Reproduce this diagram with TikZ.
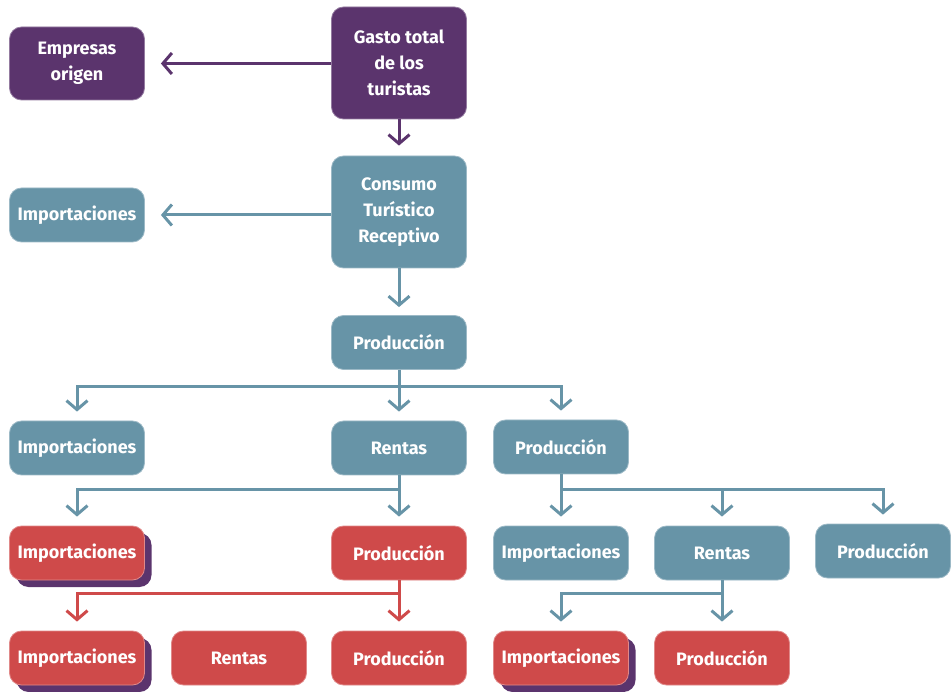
\documentclass[tikz,border=0pt]{standalone}
\usepackage{fontspec}
\setmainfont{Fira Sans}
\usetikzlibrary{arrows.meta,shadows}
\definecolor{tpurple}{HTML}{5B346D}
\definecolor{tteal}{HTML}{6794A7}
\definecolor{tred}{HTML}{CF4A4A}
\begin{document}
\begin{tikzpicture}[x=1pt,y=-1pt,
  box/.style={rounded corners=12pt, minimum width=135pt, minimum height=54pt,
    text=white, font=\bfseries\fontsize{18}{26}\selectfont, align=center,
    inner sep=0pt, line width=0.8pt},
  pbox/.style={box, fill=tpurple, draw=tpurple!65!white},
  tbox/.style={box, fill=tteal, draw=tteal!65!white},
  rbox/.style={box, fill=tred, draw=tred!65!white},
  shadowed/.style={drop shadow={shadow xshift=7pt, shadow yshift=-7pt,
    fill=tpurple, opacity=1}},
  arr/.style={line width=3pt, line join=miter,
    -{Straight Barb[length=9pt, width=21pt]}},
  parr/.style={arr, draw=tpurple},
  tarr/.style={arr, draw=tteal},
  rarr/.style={arr, draw=tred},
]
\useasboundingbox (0,0) rectangle (951,692);

% top level
\node[pbox, minimum height=112pt] (gasto) at (399,63) {Gasto total\\de los\\turistas};
\node[pbox, minimum height=73pt] (emp) at (77,63.5) {Empresas\\origen};
\node[tbox, minimum height=112pt] (cons) at (399,212) {Consumo\\Turístico\\Receptivo};
\node[tbox] (imp2) at (77,215) {Importaciones};
\node[tbox] (prod3) at (399,342.5) {Producción};

% second level
\node[tbox] (imp4) at (77,448) {Importaciones};
\node[tbox] (rent4) at (399,448) {Rentas};
\node[tbox] (prod4) at (561,447) {Producción};

% third level
\node[rbox, shadowed] (imp5) at (77,553) {Importaciones};
\node[rbox] (prod5) at (399,553) {Producción};
\node[tbox] (imp5b) at (561,553) {Importaciones};
\node[tbox] (rent5) at (722,553) {Rentas};
\node[tbox] (prod5b) at (883,551) {Producción};

% fourth level
\node[rbox, shadowed] (imp6) at (77,658) {Importaciones};
\node[rbox] (rent6) at (239,658) {Rentas};
\node[rbox] (prod6) at (399,658) {Producción};
\node[rbox, shadowed] (imp6b) at (561,658) {Importaciones};
\node[rbox] (prod6b) at (722,658) {Producción};

% branch levels
\coordinate (barA) at (0,387);
\coordinate (barB) at (0,490);
\coordinate (barC) at (0,593);

% connectors
\draw[parr, shorten >=16pt] (gasto.west |- emp.east) -- (emp.east);
\draw[parr, shorten >=10pt] (gasto.south) -- (cons.north);
\draw[tarr, shorten >=16pt] (cons.west |- imp2.east) -- (imp2.east);
\draw[tarr, shorten >=8pt] (cons.south) -- (prod3.north);

\draw[tarr, shorten >=9pt] (prod3.south) |- (barA -| imp4.north) -- (imp4.north);
\draw[tarr, shorten >=9pt] (prod3.south) -- (rent4.north);
\draw[tarr, shorten >=9pt] (prod3.south) |- (barA -| prod4.north) -- (prod4.north);

\draw[tarr, shorten >=9pt] (rent4.south) |- (barB -| imp5.north) -- (imp5.north);
\draw[tarr, shorten >=9pt] (rent4.south) -- (prod5.north);

\draw[tarr, shorten >=9pt] (prod4.south) -- (imp5b.north);
\draw[tarr, shorten >=9pt] (prod4.south) |- (barB -| rent5.north) -- (rent5.north);
\draw[tarr, shorten >=9pt] (prod4.south) |- (barB -| prod5b.north) -- (prod5b.north);

\draw[rarr, shorten >=9pt] (prod5.south) |- (barC -| imp6.north) -- (imp6.north);
\draw[rarr, shorten >=9pt] (prod5.south) -- (prod6.north);

\draw[tarr, shorten >=9pt] (rent5.south) |- (barC -| imp6b.north) -- (imp6b.north);
\draw[tarr, shorten >=9pt] (rent5.south) -- (prod6b.north);
\end{tikzpicture}
\end{document}
